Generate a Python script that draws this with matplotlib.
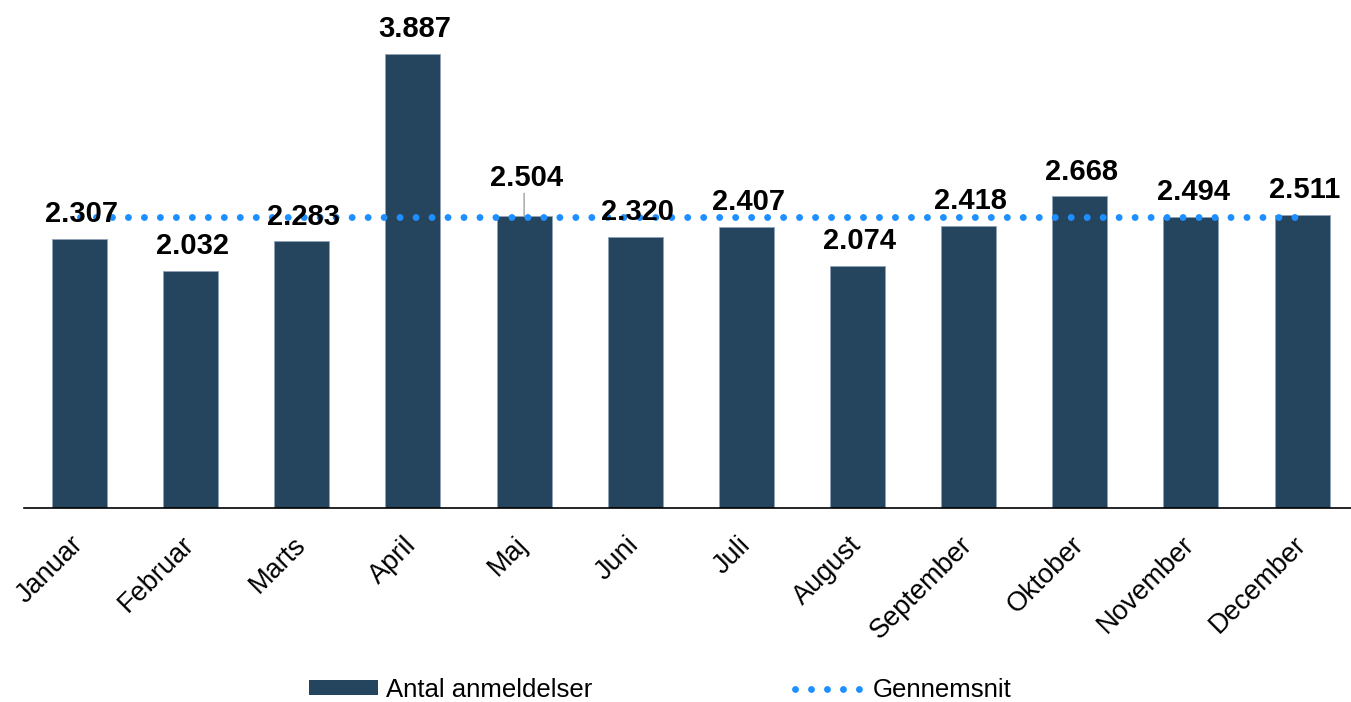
import matplotlib
matplotlib.use("Agg")
import matplotlib.pyplot as plt
from matplotlib.patches import Patch
from matplotlib.lines import Line2D
import matplotlib.transforms as mtransforms

months = ["Januar", "Februar", "Marts", "April", "Maj", "Juni", "Juli",
          "August", "September", "Oktober", "November", "December"]
anmeldelser = [2307, 2032, 2283, 3887, 2504, 2320, 2407, 2074, 2418, 2668, 2494, 2511]
gennemsnit = [2492] * 12
value_labels = ["2.307", "2.032", "2.283", "3.887", "2.504", "2.320", "2.407",
                "2.074", "2.418", "2.668", "2.494", "2.511"]

BAR = "#25455F"
DOT = "#1E8FFF"

plt.rcParams["font.family"] = ["Liberation Sans", "DejaVu Sans"]

W, H = 1351, 702
fig = plt.figure(figsize=(W / 100, H / 100), dpi=100)
ax_left = 24 / W
ax_bottom = (H - 508) / H
ax = fig.add_axes([ax_left, ax_bottom, 1 - ax_left, 508 / H])

x = list(range(len(months)))
ax.bar(x, anmeldelser, width=0.495, color=BAR, edgecolor="#8FA3B8",
       linewidth=0.6, zorder=2)
ax.plot(x, gennemsnit, color=DOT, lw=5.0, ls=(0, (0.001, 2.3)),
        dash_capstyle="round", zorder=3)

ax.set_xlim(-0.5, 11.44)
ax.set_ylim(0, 3887 * 508 / 454)

# data labels (Maj label lifted with leader line)
lift = {4: 9}
for i, (v, lab) in enumerate(zip(anmeldelser, value_labels)):
    extra = lift.get(i, 0)
    ax.annotate(lab, (i, v), xytext=(1.5, 12 + extra), textcoords="offset points",
                ha="center", va="baseline", fontsize=21, fontweight="bold",
                color="black", zorder=5)
    if extra:
        ax.annotate("", (i, v), xytext=(0, 12 + extra - 5), textcoords="offset points",
                    arrowprops=dict(arrowstyle="-", color="#A0A0A0", lw=1.0,
                                    shrinkA=0, shrinkB=0), zorder=4)

ax.set_xticks(x)
ax.set_xticklabels(months, rotation=45, ha="right", fontsize=19.5)
ax.tick_params(axis="x", length=0, pad=17)
offset = mtransforms.ScaledTranslation(9 / 100, 0, fig.dpi_scale_trans)
for t in ax.get_xticklabels():
    t.set_transform(t.get_transform() + offset)
ax.set_yticks([])
for s in ["top", "right", "left"]:
    ax.spines[s].set_visible(False)
ax.spines["bottom"].set_color("black")
ax.spines["bottom"].set_linewidth(1.2)

handles = [Patch(facecolor=BAR, edgecolor="none"),
           Line2D([0], [0], color=DOT, lw=5.0, ls=(0, (0.001, 2.3)),
                  dash_capstyle="round")]
fig.legend(handles, ["Antal anmeldelser", "Gennemsnit"], loc="center",
           bbox_to_anchor=(660 / W, 12 / H), ncol=2, frameon=False,
           fontsize=18.5, handlelength=2.7, handleheight=0.52,
           handletextpad=0.3, columnspacing=7.9, borderpad=0, borderaxespad=0)

fig.savefig("out.png", dpi=100)
